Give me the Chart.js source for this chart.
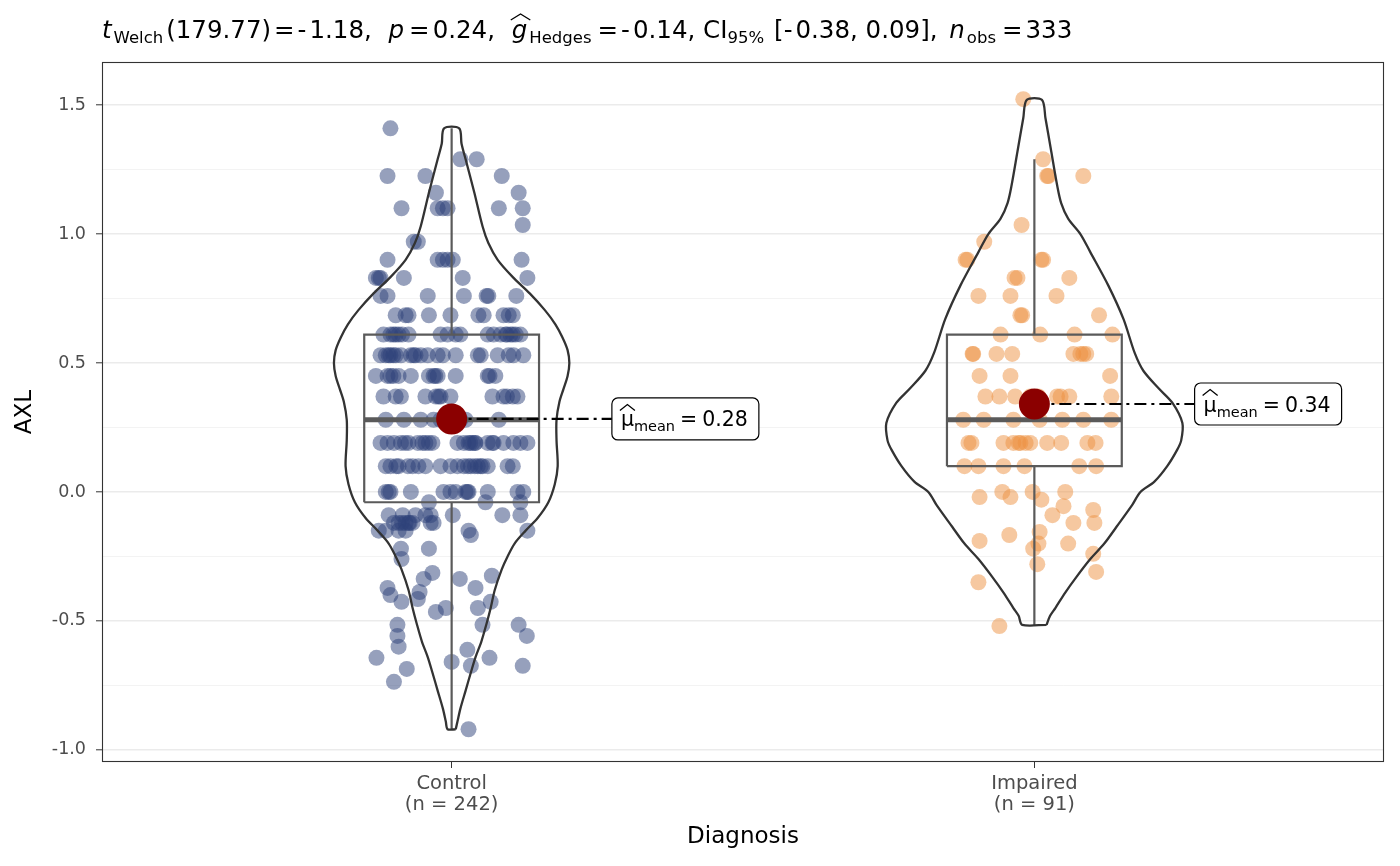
<!DOCTYPE html>
<html><head><meta charset="utf-8">
<script src="https://cdn.jsdelivr.net/npm/chart.js@4.4.1/dist/chart.umd.min.js"></script>
<style>html,body{margin:0;padding:0;background:#fff}#wrap{width:1400px;height:866px}</style>
</head><body><div id="wrap"><canvas id="c" width="1400" height="866"></canvas></div>
<script>
// ---------------- data ----------------
const categories = ['Control', 'Impaired'];
const groupCounts = [242, 91];
const yTicks = [-1.0, -0.75, -0.5, -0.25, 0.0, 0.25, 0.5, 0.75, 1.0, 1.25, 1.5];

// AXL levels and jitter offsets (category units) of the points at each level
const controlLevels = [1.41, 1.29, 1.225, 1.16, 1.10, 1.035, 0.97, 0.90, 0.83, 0.76, 0.685, 0.61, 0.53, 0.45, 0.37, 0.28, 0.19, 0.10, 0.00, -0.04, -0.09, -0.12, -0.15,
  -0.167, -0.22, -0.26, -0.314, -0.325, -0.337, -0.372, -0.388, -0.40, -0.415, -0.426, -0.45, -0.465, -0.515, -0.558, -0.60, -0.612, -0.643, -0.659, -0.674, -0.686, -0.736, -0.92];
const controlJitter = [
  [-0.105], [0.015, 0.043], [-0.110, -0.045, 0.086], [-0.027, 0.115],
  [-0.086, -0.024, -0.015, -0.007, 0.081, 0.122], [0.122], [-0.065, -0.058],
  [-0.110, -0.024, -0.015, -0.007, 0.002, 0.120],
  [-0.130, -0.125, -0.122, -0.082, 0.019, 0.130],
  [-0.122, -0.110, -0.041, 0.021, 0.060, 0.063, 0.111],
  [-0.096, -0.079, -0.074, -0.039, -0.002, 0.046, 0.055, 0.089, 0.098, 0.105],
  [-0.117, -0.105, -0.100, -0.096, -0.091, -0.085, -0.074, -0.019, -0.007, 0.007, 0.015, 0.062, 0.072, 0.084, 0.093, 0.095, 0.101, 0.105, 0.110, 0.118],
  [-0.122, -0.113, -0.108, -0.105, -0.100, -0.096, -0.087, -0.070, -0.065, -0.062, -0.053, -0.041, -0.024, -0.015, 0.007, 0.045, 0.050, 0.079, 0.098, 0.106, 0.123],
  [-0.130, -0.110, -0.105, -0.100, -0.091, -0.070, -0.039, -0.031, -0.028, -0.024, 0.007, 0.062, 0.065, 0.075],
  [-0.117, -0.096, -0.087, -0.045, -0.027, -0.022, -0.019, -0.002, 0.070, 0.089, 0.095, 0.105, 0.113],
  [-0.113, -0.082, -0.053, -0.031, -0.019, -0.010, 0.007, 0.015, 0.024, 0.081],
  [-0.122, -0.110, -0.099, -0.087, -0.080, -0.074, -0.058, -0.050, -0.045, -0.039, -0.033, 0.010, 0.021, 0.029, 0.032, 0.036, 0.040, 0.041, 0.062, 0.070, 0.072, 0.089, 0.106, 0.118, 0.130],
  [-0.113, -0.105, -0.095, -0.091, -0.075, -0.067, -0.057, -0.045, -0.019, -0.002, 0.010, 0.021, 0.028, 0.033, 0.040, 0.045, 0.050, 0.053, 0.062, 0.096, 0.105],
  [-0.113, -0.108, -0.105, -0.070, -0.014, -0.002, 0.007, 0.024, 0.027, 0.029, 0.062, 0.113, 0.123],
  [-0.039, 0.058, 0.118],
  [-0.108, -0.084, -0.062, -0.045, -0.036, 0.002, 0.087, 0.118],
  [-0.099, -0.091, -0.085, -0.079, -0.074, -0.072, -0.067, -0.036, -0.031],
  [-0.125, -0.113, -0.091, -0.079, 0.029, 0.130],
  [0.033], [-0.087, -0.039], [-0.086], [-0.033], [0.069], [-0.048, 0.014], [-0.110, 0.041], [-0.055], [-0.105], [-0.058],
  [-0.086, 0.067], [-0.010, 0.045], [-0.027], [-0.093, 0.053, 0.115], [-0.093, 0.129], [-0.091], [0.027], [-0.129, 0.065],
  [0.000], [0.033, 0.122], [-0.077], [-0.099], [0.029]
];
const impairedLevels = [1.523, 1.29, 1.225, 1.035, 0.97, 0.90, 0.83, 0.76, 0.685, 0.61, 0.535, 0.45, 0.37, 0.28, 0.19, 0.10, 0.00, -0.02, -0.03, -0.055, -0.07, -0.09, -0.12, -0.155, -0.167, -0.19, -0.20, -0.22, -0.24, -0.28, -0.31, -0.35, -0.52];
const impairedJitter = [
  [-0.019], [0.015], [0.022, 0.024, 0.084], [-0.022], [-0.086],
  [-0.118, -0.115, 0.012, 0.015], [-0.034, -0.029, 0.060], [-0.096, -0.041, 0.038], [-0.024, -0.021, 0.111],
  [-0.058, 0.010, 0.069, 0.134],
  [-0.106, -0.105, -0.065, -0.038, 0.067, 0.079, 0.084, 0.089],
  [-0.094, -0.041, 0.130],
  [-0.084, -0.060, -0.033, -0.007, 0.007, 0.039, 0.045, 0.060, 0.132],
  [-0.122, -0.087, -0.036, 0.009, 0.048, 0.084, 0.132],
  [-0.113, -0.108, -0.053, -0.036, -0.027, -0.024, -0.015, -0.007, 0.022, 0.046, 0.091, 0.105],
  [-0.120, -0.096, -0.053, -0.017, 0.077, 0.106],
  [-0.055, -0.003, 0.053], [-0.094, -0.041], [0.012], [0.050], [0.101], [0.031], [0.067, 0.103],
  [0.009], [-0.043], [-0.094], [0.007, 0.058], [-0.002], [0.101], [0.005], [0.106], [-0.096], [-0.060]
];

// violin outlines: AXL value and half width (category units)
const controlViolinY = [1.41, 1.35, 1.29, 1.16, 1.03, 0.965, 0.90, 0.833, 0.77, 0.705, 0.65, 0.60, 0.55, 0.50, 0.45, 0.40, 0.35, 0.28, 0.20, 0.10, 0.03, -0.04, -0.10, -0.15, -0.20, -0.25, -0.30, -0.38, -0.45, -0.51, -0.58, -0.64, -0.70, -0.77, -0.84, -0.89, -0.92];
const controlViolinHalf = [0.013, 0.017, 0.024, 0.039, 0.053, 0.063, 0.079, 0.105, 0.134, 0.160, 0.178, 0.190, 0.199, 0.202, 0.199, 0.192, 0.185, 0.180, 0.180, 0.182, 0.177, 0.166, 0.148, 0.127, 0.108, 0.096, 0.086, 0.074, 0.067, 0.060, 0.051, 0.041, 0.033, 0.024, 0.015, 0.010, 0.007];
const impairedViolinY = [1.52, 1.45, 1.32, 1.19, 1.12, 1.06, 1.00, 0.93, 0.80, 0.67, 0.54, 0.47, 0.40, 0.345, 0.267, 0.20, 0.163, 0.10, 0.04, 0.00, -0.05, -0.135, -0.20, -0.26, -0.33, -0.39, -0.45, -0.48, -0.515];
const impairedViolinHalf = [0.013, 0.019, 0.029, 0.039, 0.046, 0.058, 0.079, 0.096, 0.127, 0.153, 0.172, 0.187, 0.214, 0.237, 0.254, 0.252, 0.245, 0.228, 0.206, 0.182, 0.168, 0.141, 0.120, 0.096, 0.072, 0.053, 0.036, 0.027, 0.021];

// box plot statistics
const boxQ1 = [-0.04, 0.10];
const boxMedian = [0.28, 0.28];
const boxQ3 = [0.61, 0.61];
const whiskerLow = [-0.92, -0.52];
const whiskerHigh = [1.41, 1.29];
const groupMeans = [0.283, 0.341];
const meanLabels = ['0.28', '0.34'];

// ---------------- styling ----------------
const FONT = '"DejaVu Sans", "Noto Sans", sans-serif';
const pointColors = ['rgba(45,65,121,0.5)', 'rgba(237,145,65,0.5)'];
const BOX_HALF = 0.15;
const LABEL_DX = 0.275;

function flatten(levels, jitter, center) {
  const out = [];
  levels.forEach((y, i) => jitter[i].forEach(dx => out.push({ x: center + dx, y })));
  return out;
}
function violin(ys, halfs, center) {
  const pts = [];
  for (let i = ys.length - 1; i >= 0; i--) pts.push({ x: center + halfs[i], y: ys[i] });
  for (let i = 0; i < ys.length; i++) pts.push({ x: center - halfs[i], y: ys[i] });
  pts.push(pts[0]);
  return pts;
}

const datasets = [];
const pointSets = [flatten(controlLevels, controlJitter, 1), flatten(impairedLevels, impairedJitter, 2)];
const violins = [violin(controlViolinY, controlViolinHalf, 1), violin(impairedViolinY, impairedViolinHalf, 2)];
[0, 1].forEach(g => {
  const c = g + 1;
  datasets.push({ data: pointSets[g], showLine: false, pointRadius: 8, pointHoverRadius: 8, pointBorderWidth: 0, pointBackgroundColor: pointColors[g], order: 10 });
  datasets.push({ data: [{ x: c - BOX_HALF, y: boxQ1[g] }, { x: c + BOX_HALF, y: boxQ1[g] }, { x: c + BOX_HALF, y: boxQ3[g] }, { x: c - BOX_HALF, y: boxQ3[g] }, { x: c - BOX_HALF, y: boxQ1[g] }],
    showLine: true, pointRadius: 0, borderColor: '#5a5a5a', borderWidth: 2.2, fill: false, order: 8 });
  datasets.push({ data: [{ x: c, y: boxQ3[g] }, { x: c, y: whiskerHigh[g] }], showLine: true, pointRadius: 0, borderColor: '#5a5a5a', borderWidth: 2.2, order: 8 });
  datasets.push({ data: [{ x: c, y: boxQ1[g] }, { x: c, y: whiskerLow[g] }], showLine: true, pointRadius: 0, borderColor: '#5a5a5a', borderWidth: 2.2, order: 8 });
  datasets.push({ data: [{ x: c - BOX_HALF, y: boxMedian[g] }, { x: c + BOX_HALF, y: boxMedian[g] }], showLine: true, pointRadius: 0, borderColor: '#5a5a5a', borderWidth: 5, order: 8 });
  datasets.push({ data: violins[g], showLine: true, pointRadius: 0, borderColor: '#333333', borderWidth: 2.3, tension: 0.3, fill: false, order: 7 });
  datasets.push({ data: [{ x: c, y: groupMeans[g] }, { x: c + LABEL_DX, y: groupMeans[g] }], showLine: true, pointRadius: 0, borderColor: '#000', borderWidth: 2.2, borderDash: [12, 5, 3, 5], order: 6 });
  datasets.push({ data: [{ x: c, y: groupMeans[g] }], showLine: false, pointRadius: 15.5, pointHoverRadius: 15.5, pointBorderWidth: 0, pointBackgroundColor: '#8B0000', order: 5 });
});

function drawRich(ctx, x, y, segs) {
  ctx.textAlign = 'left';
  ctx.textBaseline = 'alphabetic';
  for (const s of segs) {
    x += s.pre || 0;
    ctx.font = s.font;
    ctx.fillText(s.t, x, y + (s.dy || 0));
    const w = ctx.measureText(s.t).width;
    if (s.hat) {
      const [b, p, ext, sk] = s.hat;
      ctx.save();
      ctx.lineWidth = 1.3;
      ctx.strokeStyle = ctx.fillStyle;
      ctx.beginPath();
      ctx.moveTo(x - ext + sk, y - b);
      ctx.lineTo(x + w / 2 + sk, y - p);
      ctx.lineTo(x + w + ext + sk, y - b);
      ctx.stroke();
      ctx.restore();
    }
    x += w + (s.post || 0);
  }
  return x;
}
function measureRich(ctx, segs) {
  let w = 0;
  for (const s of segs) { ctx.font = s.font; w += (s.pre || 0) + ctx.measureText(s.t).width + (s.post || 0); }
  return w;
}

const TS = 24.5, TSUB = 16.5;
const tf = `${TS}px ${FONT}`, tfi = `italic ${TS}px ${FONT}`, tsub = `${TSUB}px ${FONT}`;
const EQ = { t: '=', font: tf, pre: 3, post: 3 };
const MINUS = { t: '-', font: tf, post: 3 };
const titleSegs = [
  { t: 't', font: tfi, post: 2 }, { t: 'Welch', font: tsub, dy: 5, post: 3 }, { t: '(179.77)', font: tf },
  EQ, MINUS, { t: '1.18, ', font: tf, post: 9 },
  { t: 'p', font: tfi, post: 2 }, EQ, { t: '0.24, ', font: tf, post: 9 },
  { t: 'g', font: tfi, post: 2, hat: [18, 24, 2, 1] }, { t: 'Hedges', font: tsub, dy: 5, post: 3 },
  EQ, MINUS, { t: '0.14, CI', font: tf }, { t: '95%', font: tsub, dy: 5, post: 10 },
  { t: '[', font: tf }, MINUS, { t: '0.38, 0.09], ', font: tf, post: 4 },
  { t: 'n', font: tfi, post: 2 }, { t: 'obs', font: tsub, dy: 5, post: 3 }, EQ, { t: '333', font: tf }
];

const annot = {
  id: 'annot',
  afterDatasetsDraw(chart) {
    const ctx = chart.ctx, xs = chart.scales.x, ys = chart.scales.y;
    const LS = 20.5, LSUB = 14.5;
    [0, 1].forEach(g => {
      const segs = [
        { t: 'μ', font: `${LS}px ${FONT}`, hat: [16, 22, 1, 0] },
        { t: 'mean', font: `${LSUB}px ${FONT}`, dy: 5 },
        { t: '=', font: `${LS}px ${FONT}`, pre: 5, post: 5 },
        { t: meanLabels[g], font: `${LS}px ${FONT}` }
      ];
      const x0 = xs.getPixelForValue(g + 1 + LABEL_DX);
      const yc = ys.getPixelForValue(groupMeans[g]);
      const w = measureRich(ctx, segs) + 20, h = 42;
      ctx.save();
      ctx.beginPath();
      ctx.roundRect(x0, yc - h / 2, w, h, 6);
      ctx.fillStyle = '#fff';
      ctx.fill();
      ctx.lineWidth = 1.2;
      ctx.strokeStyle = '#000';
      ctx.stroke();
      ctx.fillStyle = '#000';
      drawRich(ctx, x0 + 9, yc + 7.5, segs);
      ctx.restore();
    });
  },
  afterDraw(chart) {
    const ctx = chart.ctx, a = chart.chartArea;
    ctx.save();
    ctx.strokeStyle = '#333333';
    ctx.lineWidth = 1.1;
    ctx.strokeRect(a.left + 0.5, a.top + 0.5, a.right - a.left - 1, a.bottom - a.top - 1);
    ctx.fillStyle = '#000';
    drawRich(ctx, a.left, 38, titleSegs);
    ctx.font = `23px ${FONT}`;
    ctx.textAlign = 'center';
    ctx.textBaseline = 'middle';
    ctx.fillText('Diagnosis', (a.left + a.right) / 2, 837);
    ctx.translate(25, (a.top + a.bottom) / 2);
    ctx.rotate(-Math.PI / 2);
    ctx.fillText('AXL', 0, 0);
    ctx.restore();
  }
};

new Chart(document.getElementById('c'), {
  type: 'scatter',
  data: { datasets },
  options: {
    responsive: false, animation: false, devicePixelRatio: 1, events: [],
    layout: { padding: { top: 62, right: 16, left: 0, bottom: 0 } },
    plugins: { legend: { display: false }, tooltip: { enabled: false } },
    scales: {
      x: {
        type: 'linear', min: 0.4, max: 2.6,
        afterBuildTicks: s => { s.ticks = [{ value: 1 }, { value: 2 }]; },
        afterFit: s => { s.height = 104; },
        grid: { drawOnChartArea: false, drawTicks: true, tickLength: 6, color: '#333333', lineWidth: 1 },
        border: { display: false },
        ticks: { autoSkip: false, maxRotation: 0, padding: 5, color: '#4D4D4D', font: { family: FONT, size: 19.5, lineHeight: 1.08 },
          callback: v => [categories[v - 1], `(n = ${groupCounts[v - 1]})`] }
      },
      y: {
        type: 'linear', min: -1.047, max: 1.667,
        afterBuildTicks: s => { s.ticks = yTicks.map(v => ({ value: v })); },
        afterFit: s => { s.width = 102; },
        grid: {
          drawTicks: true, tickLength: 6,
          color: c => (Math.abs(c.tick.value * 2 - Math.round(c.tick.value * 2)) < 1e-6 ? '#EBEBEB' : '#F2F2F2'),
          lineWidth: c => (Math.abs(c.tick.value * 2 - Math.round(c.tick.value * 2)) < 1e-6 ? 1.6 : 0.9),
          tickColor: c => (Math.abs(c.tick.value * 2 - Math.round(c.tick.value * 2)) < 1e-6 ? '#333333' : 'rgba(0,0,0,0)'),
          tickWidth: 1
        },
        border: { display: false },
        ticks: { autoSkip: false, padding: 10, color: '#4D4D4D', font: { family: FONT, size: 17.5 },
          callback: v => (Math.abs(v * 2 - Math.round(v * 2)) < 1e-6 ? v.toFixed(1) : '') }
      }
    }
  },
  plugins: [annot]
});
</script>
</body></html>
